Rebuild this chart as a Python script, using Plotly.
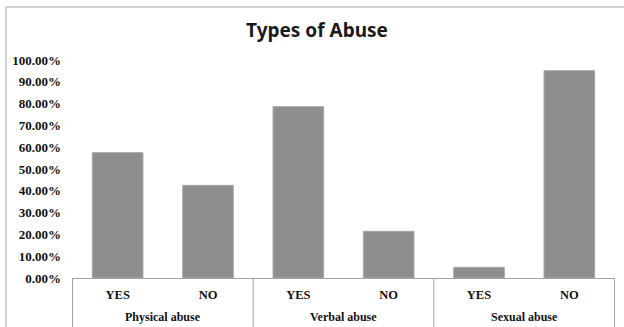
import plotly.graph_objects as go

# Survey responses per abuse type
group_names = ["Physical abuse", "Verbal abuse", "Sexual abuse"]
answers = ["YES", "NO", "YES", "NO", "YES", "NO"]
groups = ["Physical abuse", "Physical abuse", "Verbal abuse", "Verbal abuse",
          "Sexual abuse", "Sexual abuse"]
shares = [0.575, 0.425, 0.786, 0.214, 0.049, 0.951]
y_ticks = [i / 10 for i in range(11)]

W, H = 624, 327
L, R, T, B = 72, 9, 60, 49
pw, ph = W - L - R, H - T - B

keys = [f"{g} | {a}" for g, a in zip(groups, answers)]

fig = go.Figure(
    go.Bar(
        x=keys,
        y=shares,
        marker=dict(color="#8e8e8e", line=dict(color="#a6a6a6", width=1)),
        width=0.56,
    )
)

line_col = "#a3a3a3"
serif = "Liberation Serif"
fig.update_layout(
    width=W, height=H,
    margin=dict(l=L, r=R, t=T, b=B),
    paper_bgcolor="white", plot_bgcolor="white",
    showlegend=False,
    title=dict(text="<b>Types of Abuse</b>", x=317 / W, xanchor="center",
               y=1 - 30 / H, yanchor="middle",
               font=dict(family="Noto Sans", size=19, color="#1a1a1a")),
    xaxis=dict(
        type="category",
        tickvals=keys, ticktext=[f"<b>{a}</b>" for a in answers],
        showline=True, linecolor=line_col, linewidth=1,
        tickfont=dict(family=serif, size=12.5, color="#111"),
        ticks="", ticklabelstandoff=5,
        showgrid=False,
    ),
    yaxis=dict(
        range=[0, 1], tickvals=y_ticks,
        ticktext=[f"<b>{v * 100:.2f}%</b>" for v in y_ticks],
        showgrid=False, showline=False, zeroline=False,
        tickfont=dict(family=serif, size=13, color="#111"),
        ticks="", ticklabelstandoff=10,
    ),
)

# Group boxes below the axis: dividers at group edges and centred group names
n_per = len(answers) // len(group_names)
bottom = -(B + 5) / ph
for gi, name in enumerate(group_names):
    left_edge = gi * n_per - 0.5
    fig.add_shape(type="line", xref="x", yref="paper", x0=left_edge, x1=left_edge,
                  y0=0, y1=bottom, line=dict(color=line_col, width=1))
    fig.add_annotation(text=f"<b>{name}</b>", xref="x", yref="paper",
                       x=left_edge + n_per / 2, y=-(317 - (H - B)) / ph,
                       yanchor="middle", showarrow=False,
                       font=dict(family=serif, size=12, color="#111"))
right_edge = len(answers) - 0.5
fig.add_shape(type="line", xref="x", yref="paper", x0=right_edge, x1=right_edge,
              y0=0, y1=bottom, line=dict(color=line_col, width=1))

# Chart frame (left and top edges)
fx = (6 - L) / pw
fy = 1 + (T - 7) / ph
fig.add_shape(type="line", xref="paper", yref="paper", x0=fx, x1=fx,
              y0=fy, y1=bottom, line=dict(color=line_col, width=1))
fig.add_shape(type="line", xref="paper", yref="paper", x0=fx, x1=1 + (R + 5) / pw,
              y0=fy, y1=fy, line=dict(color=line_col, width=1))

fig.write_html("out.html")
